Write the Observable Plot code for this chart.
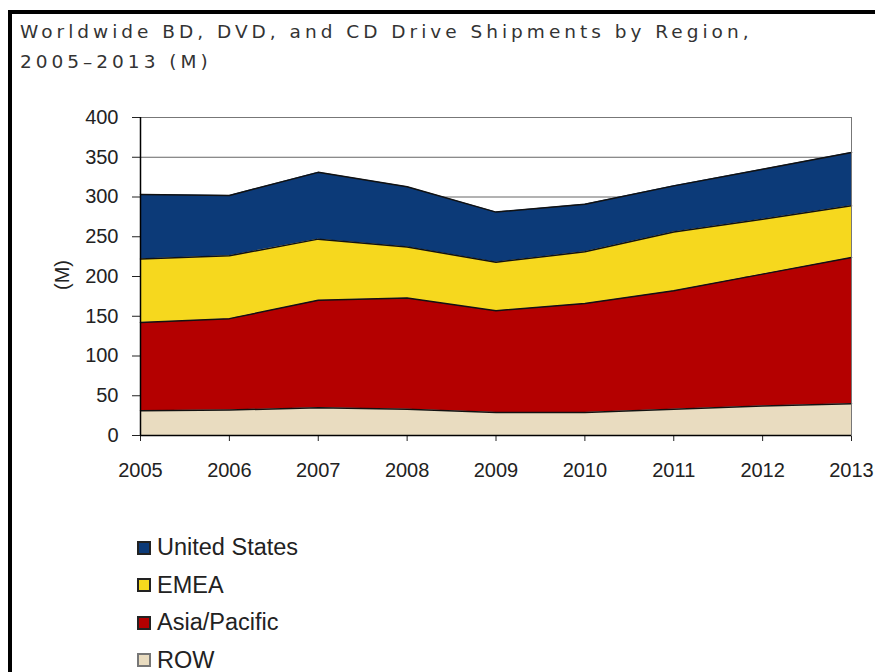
<!DOCTYPE html>
<html>
<head>
<meta charset="utf-8">
<script src="https://cdn.jsdelivr.net/npm/d3@7"></script>
<script src="https://cdn.jsdelivr.net/npm/@observablehq/plot@0.6"></script>
<style>
  html, body { margin: 0; padding: 0; background: #fff; width: 875px; height: 672px; overflow: hidden; }
  #frame { position: absolute; left: 8px; top: 10px; width: 900px; height: 700px; border: 4px solid #000; box-sizing: border-box; }
  #title { position: absolute; left: 20px; top: 17px; font-family: "DejaVu Sans", sans-serif; font-size: 18.5px; letter-spacing: 4px; line-height: 30px; color: #333; white-space: nowrap; }
  #chart { position: absolute; left: 0; top: 90px; }
  #ylabel { position: absolute; left: 62px; top: 275px; transform: translate(-50%, -50%) rotate(-90deg); font-family: "Liberation Sans", Arial, sans-serif; font-size: 20px; color: #222; }
  #legend { position: absolute; left: 137px; top: 529px; font-family: "Liberation Sans", Arial, sans-serif; font-size: 23.5px; color: #222; }
  .item { height: 37.5px; display: flex; align-items: center; }
  .sw { width: 10px; height: 10px; border: 2px solid #222; margin-right: 6px; }
</style>
</head>
<body>
<div id="frame"></div>
<div id="title">Worldwide BD, DVD, and CD Drive Shipments by Region,<br>2005–2013 (M)</div>
<div id="chart"></div>
<div id="ylabel">(M)</div>
<div id="legend"></div>
<script>
const years = [2005, 2006, 2007, 2008, 2009, 2010, 2011, 2012, 2013];
const regions = ["ROW", "Asia/Pacific", "EMEA", "United States"];
const rowValues = [31, 32, 35, 33, 29, 29, 33, 37, 40];
const asiaValues = [111, 115, 135, 140, 128, 137, 149, 166, 184];
const emeaValues = [80, 79, 77, 64, 61, 65, 74, 69, 65];
const usValues = [81, 76, 84, 76, 63, 60, 58, 63, 67];
const colors = ["#e9dcc0", "#b40000", "#f6d81e", "#0c3a78"];
const yTicks = [0, 50, 100, 150, 200, 250, 300, 350, 400];
const legendOrder = ["United States", "EMEA", "Asia/Pacific", "ROW"];

const series = {"ROW": rowValues, "Asia/Pacific": asiaValues, "EMEA": emeaValues, "United States": usValues};
const data = regions.flatMap(r => years.map((y, i) => ({year: y, region: r, value: series[r][i]})));

const chart = Plot.plot({
  width: 875,
  height: 420,
  marginLeft: 140,
  marginRight: 24,
  marginTop: 27,
  marginBottom: 75,
  style: {fontFamily: "'Liberation Sans', Arial, sans-serif", fontSize: "20px", color: "#222", background: "transparent"},
  x: {domain: [2005, 2013], ticks: years, tickFormat: "d", label: null, tickSize: 6, tickPadding: 21},
  y: {domain: [0, 400], ticks: yTicks, label: null, tickSize: 8, tickPadding: 14},
  color: {domain: regions, range: colors},
  marks: [
    Plot.ruleY(yTicks.filter(d => d > 0), {stroke: "#666", strokeWidth: 1}),
    Plot.areaY(data, {x: "year", y: "value", fill: "region", order: regions}),
    Plot.lineY(data, Plot.stackY2({x: "year", y: "value", z: "region", order: regions, stroke: "#111", strokeWidth: 1.5})),
    Plot.frame({stroke: "#777", strokeWidth: 1}),
    Plot.ruleX([2005], {stroke: "#000", strokeWidth: 1.5}),
    Plot.ruleY([0], {stroke: "#000", strokeWidth: 1.5})
  ]
});
document.getElementById("chart").appendChild(chart);

const legend = document.getElementById("legend");
legendOrder.forEach(r => {
  const item = document.createElement("div");
  item.className = "item";
  const sw = document.createElement("div");
  sw.className = "sw";
  sw.style.background = colors[regions.indexOf(r)];
  if (r === "ROW") sw.style.borderColor = "#777";
  const t = document.createElement("span");
  t.textContent = r;
  item.appendChild(sw);
  item.appendChild(t);
  legend.appendChild(item);
});
</script>
</body>
</html>
